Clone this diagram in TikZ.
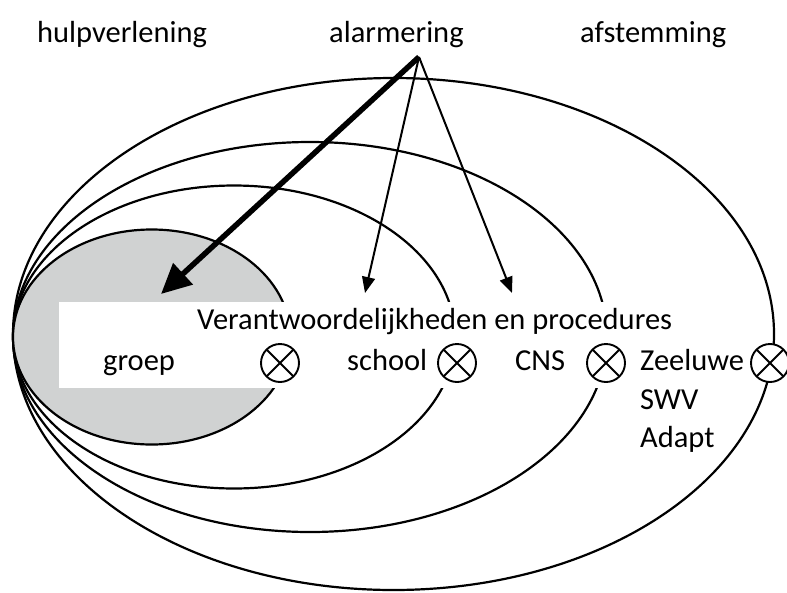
\documentclass[tikz,border=0pt]{standalone}
\usepackage{fontspec}
\setmainfont{Carlito}
\usetikzlibrary{arrows.meta}
\begin{document}
\begin{tikzpicture}[x=1pt,y=-1pt,
  outline/.style={line width=2.2pt},
  lbl/.style={inner sep=0pt, font=\fontsize{30.5}{36}\selectfont, anchor=base west},
  xsym/.style={circle, draw, fill=white, line width=1.9pt, minimum size=38pt, inner sep=0pt,
    path picture={\draw[line width=1.9pt] (path picture bounding box.north west) -- (path picture bounding box.south east)
      (path picture bounding box.north east) -- (path picture bounding box.south west);}},
  thinarrow/.style={line width=2pt, -{Triangle[length=16pt,width=13pt]}},
  thickarrow/.style={line width=5.5pt, -{Triangle[length=30pt,width=28pt]}}
]
\useasboundingbox (0,0) rectangle (787,592);
% ellipses
\draw[outline] (393.5,334) ellipse [x radius=380.5pt, y radius=256pt];
\draw[outline] (310,337) ellipse [x radius=297pt, y radius=195pt];
\draw[outline] (234,337) ellipse [x radius=221pt, y radius=151.5pt];
\draw[outline, fill={rgb,255:red,208;green,210;blue,210}] (151.7,337) ellipse [x radius=138.7pt, y radius=107.5pt];
% white text box
\fill[white] (59,302) rectangle (760,388);
% header labels
\node[lbl] (hulp) at (37,42) {hulpverlening};
\node[lbl] (alarm) at (329,42) {alarmering};
\node[lbl] (afst) at (580,42) {afstemming};
% box texts
\node[lbl] (verant) at (197,329) {Verantwoordelijkheden en procedures};
\node[lbl] (groep) at (103,370) {groep};
\node[lbl] (school) at (347,370) {school};
\node[lbl] (cns) at (515,370) {CNS};
\node[lbl] (zee) at (640,370) {Zeeluwe};
\node[lbl] (swv) at (640,409) {SWV};
\node[lbl] (adapt) at (640,447) {Adapt};
% crossed circles
\node[xsym] (x1) at (280,363) {};
\node[xsym] (x2) at (457,363) {};
\node[xsym] (x3) at (606,363) {};
\node[xsym] (x4) at (770,363) {};
% arrows
\coordinate (apex) at (419,57);
\coordinate (tgroep) at (161,294);
\coordinate (tschool) at (365,293);
\coordinate (tcns) at (512,293);
\draw[thickarrow] (apex) -- (tgroep);
\draw[thinarrow] (apex) -- (tschool);
\draw[thinarrow] (apex) -- (tcns);
\end{tikzpicture}
\end{document}
